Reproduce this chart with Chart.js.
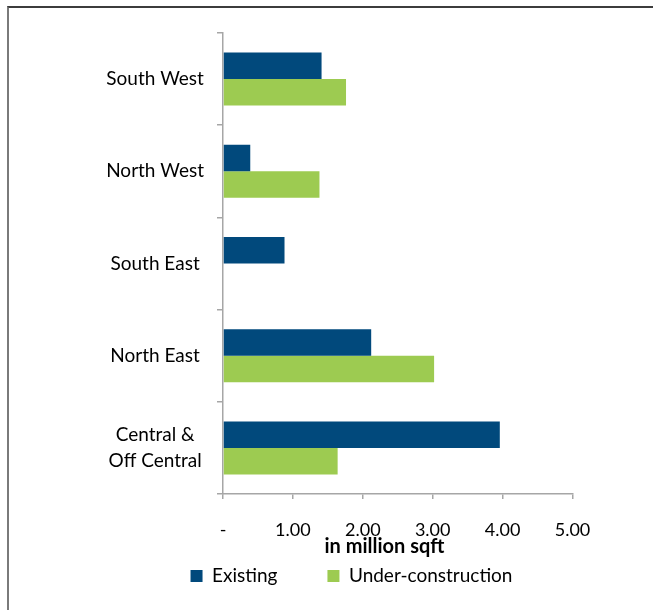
<!DOCTYPE html>
<html><head><meta charset="utf-8">
<script src="https://cdn.jsdelivr.net/npm/chart.js@4"></script>
<style>
html,body{margin:0;padding:0;background:#fff;}
#wrap{position:relative;width:653px;height:610px;overflow:hidden;}
#frame{position:absolute;left:7px;top:6px;width:660px;height:620px;border-top:2px solid #3c3c3c;border-left:2px solid #7a7a7a;pointer-events:none;}
canvas{position:absolute;left:0;top:0;}
</style></head>
<body><div id="wrap"><canvas id="c" width="653" height="610"></canvas><div id="frame"></div></div>
<script>
const categories = ['South West', 'North West', 'South East', 'North East', ['Central &', 'Off Central']];
const existing = [1.41, 0.39, 0.88, 2.12, 3.96];
const underConstruction = [1.76, 1.38, 0, 3.02, 1.64];
const xTickLabels = ['-', '1.00', '2.00', '3.00', '4.00', '5.00'];
const seriesNames = ['Existing', 'Under-construction'];
const axisTitle = 'in million sqft';

const FONT = 'Lato, "Open Sans", sans-serif';
Chart.defaults.font.family = FONT;
Chart.defaults.color = '#000';

const axisTitlePlugin = {
  id: 'axisTitlePlugin',
  afterDraw(chart) {
    const ca = chart.chartArea, ctx = chart.ctx;
    ctx.save();
    ctx.font = 'bold 20px ' + FONT;
    ctx.fillStyle = '#000';
    ctx.textAlign = 'center';
    ctx.textBaseline = 'alphabetic';
    ctx.fillText(axisTitle, ca.left + (ca.right - ca.left) * 0.462, ca.bottom + 59);
    ctx.restore();
  }
};

const legendPlace = {
  id: 'legendPlace',
  afterLayout(chart) {
    const lg = chart.legend;
    if (!lg) return;
    const h = lg.bottom - lg.top;
    const w = lg.right - lg.left;
    const cx = 351.5;
    lg.left = cx - w / 2; lg.right = cx + w / 2;
    lg.top = 516.5; lg.bottom = lg.top + h;
  }
};

const config = {
  type: 'bar',
  data: {
    labels: categories,
    datasets: [
      { label: seriesNames[0], data: existing, backgroundColor: '#01497c', borderWidth: 0,
        categoryPercentage: 0.575, barPercentage: 1 },
      { label: seriesNames[1], data: underConstruction, backgroundColor: '#9dcb51', borderWidth: 0,
        categoryPercentage: 0.575, barPercentage: 1 }
    ]
  },
  options: {
    indexAxis: 'y',
    responsive: false,
    animation: false,
    devicePixelRatio: 1,
    layout: { padding: { left: 107, right: 80.5, top: 33, bottom: 0 } },
    scales: {
      y: {
        type: 'category',
        position: 'left',
        grid: { offset: true, drawOnChartArea: false, color: '#a6a6a6', lineWidth: 1.5, tickLength: 6 },
        border: { display: true, color: '#a6a6a6', width: 1.5 },
        ticks: { font: { size: 19, lineHeight: 1.37 }, color: '#000', crossAlign: 'center', padding: 13 },
        afterFit: s => { s.paddingTop = 0; s.paddingBottom = 0; }
      },
      x: {
        type: 'linear',
        min: 0, max: 5,
        grid: { drawOnChartArea: false, color: '#a6a6a6', lineWidth: 1.5, tickLength: 5 },
        border: { display: true, color: '#a6a6a6', width: 1.5 },
        ticks: { stepSize: 1, font: { size: 18 }, color: '#000', padding: 20,
          callback: (v, i) => xTickLabels[i] }
      }
    },
    plugins: {
      legend: {
        position: 'bottom',
        labels: { boxWidth: 12, boxHeight: 12, padding: 50, font: { size: 19 }, color: '#000' }
      },
      tooltip: { enabled: false }
    }
  },
  plugins: [axisTitlePlugin, legendPlace]
};

const chart = new Chart(document.getElementById('c'), config);

// fit the plot area to the reference frame (left 223, right 572.5, top 33, bottom 494)
const target = { left: 223, right: 572.5, top: 33, bottom: 494 };
for (let k = 0; k < 3; k++) {
  const ca = chart.chartArea;
  const p = config.options.layout.padding;
  chart.config.options.layout.padding = {
    left: p.left + (target.left - ca.left),
    right: p.right + (ca.right - target.right),
    top: p.top + (target.top - ca.top),
    bottom: p.bottom + (ca.bottom - target.bottom)
  };
  config.options.layout.padding = chart.config.options.layout.padding;
  chart.update('none');
}
</script>
</body></html>
